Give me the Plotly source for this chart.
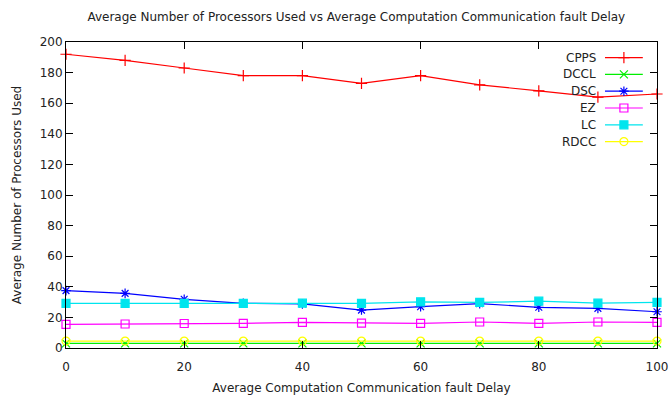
import plotly.graph_objects as go

# Average fault delay values on the x axis
delay = [0, 10, 20, 30, 40, 50, 60, 70, 80, 90, 100]

# Average number of processors used by each scheduling algorithm
cpps = [192, 188, 183, 178, 178, 173, 178, 172, 168, 164, 166]
dccl = [3, 3, 3, 3, 3, 3, 3, 3, 3, 3, 3]
dsc = [37.5, 35.7, 31.8, 29.2, 28.8, 24.8, 27.0, 29.0, 26.6, 25.9, 23.7]
ez = [15.5, 15.7, 16.0, 16.1, 16.8, 16.2, 16.1, 17.0, 16.1, 17.0, 16.8]
lc = [29.2, 29.2, 29.2, 29.2, 29.3, 29.2, 30.2, 29.8, 30.6, 29.3, 29.8]
rdcc = [4.5, 4.5, 4.5, 4.5, 4.5, 4.5, 4.5, 4.5, 4.5, 4.5, 4.5]

series_names = ["CPPS", "DCCL", "DSC", "EZ", "LC", "RDCC"]
series_values = [cpps, dccl, dsc, ez, lc, rdcc]
series_colors = ["#ff0000", "#00ee00", "#0000ff", "#ff00ff", "#00e5ee", "#ffff00"]
series_symbols = ["cross-thin-open", "x-thin-open", "asterisk-open",
                  "square-open", "square", "circle-open"]

TEXT = "#222222"
FONT = "DejaVu Sans"
MSIZE = 8

fig = go.Figure()

for name, vals, col, sym in zip(series_names, series_values, series_colors, series_symbols):
    fig.add_trace(go.Scatter(
        x=delay, y=vals, name=name, mode="lines+markers",
        line=dict(color=col, width=1.2),
        marker=dict(symbol=sym, size=MSIZE, color=col, line=dict(color=col, width=1.2)),
        showlegend=False, cliponaxis=False,
    ))

# Key in the upper right: label, then a short line sample with its point symbol
key_text_x = 0.900
key_x0, key_x1 = 0.912, 0.976
key_top, key_step = 0.949, 0.0549
for i, (name, col, sym) in enumerate(zip(series_names, series_colors, series_symbols)):
    ky = key_top - i * key_step
    fig.add_trace(go.Scatter(
        x=[key_x0, key_x1], y=[ky, ky], mode="lines",
        line=dict(color=col, width=1.2), xaxis="x2", yaxis="y2",
        showlegend=False, hoverinfo="skip",
    ))
    fig.add_trace(go.Scatter(
        x=[(key_x0 + key_x1) / 2], y=[ky], mode="markers",
        marker=dict(symbol=sym, size=MSIZE, color=col, line=dict(color=col, width=1.2)),
        xaxis="x2", yaxis="y2", showlegend=False, hoverinfo="skip",
    ))
    fig.add_annotation(
        x=key_text_x, y=ky, xref="x2", yref="y2", text=name,
        showarrow=False, xanchor="right", yanchor="middle",
        font=dict(family=FONT, size=12, color=TEXT),
    )

axis_common = dict(
    showline=True, linecolor="black", linewidth=1, mirror="ticks",
    ticks="inside", ticklen=7, tickcolor="black", tickwidth=1,
    showgrid=False, zeroline=False, automargin=False,
    tickfont=dict(family=FONT, size=12, color=TEXT),
)

fig.update_layout(
    width=671, height=399,
    margin=dict(l=66, r=14, t=42, b=51),
    paper_bgcolor="white", plot_bgcolor="white",
    title=dict(
        text="Average Number of Processors Used vs Average Computation Communication fault Delay",
        x=0.531, xanchor="center", y=0.957, yanchor="middle",
        font=dict(family=FONT, size=12, color=TEXT),
    ),
    xaxis=dict(
        range=[0, 100], tickvals=[0, 20, 40, 60, 80, 100],
        ticklabelstandoff=8,
        title=dict(text="Average Computation Communication fault Delay",
                   font=dict(family=FONT, size=12, color=TEXT), standoff=10),
        **axis_common,
    ),
    yaxis=dict(
        range=[0, 200], tickvals=list(range(0, 201, 20)),
        title=dict(text="Average Number of Processors Used",
                   font=dict(family=FONT, size=12, color=TEXT), standoff=15),
        **axis_common,
    ),
    xaxis2=dict(range=[0, 1], overlaying="x", visible=False),
    yaxis2=dict(range=[0, 1], overlaying="y", visible=False),
    showlegend=False,
)

fig.write_html("out.html")
